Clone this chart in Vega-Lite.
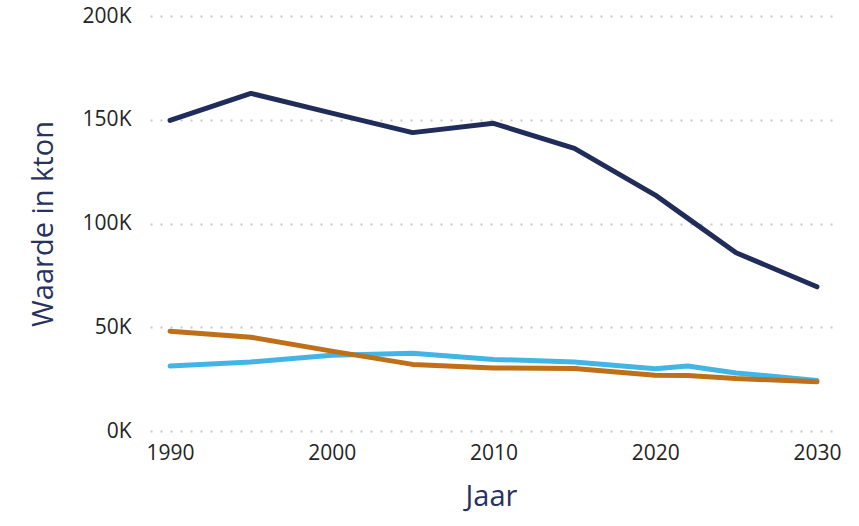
{
  "$schema": "https://vega.github.io/schema/vega-lite/v6.json",
  "autosize": {"type": "none"},
  "width": 682,
  "height": 415,
  "padding": {"left": 150, "top": 16, "right": 27, "bottom": 95},
  "background": "white",
  "config": {
    "view": {"stroke": null},
    "font": "Open Sans"
  },
  "data": {
    "values": [
      {"Jaar": 1990, "Reeks": "A", "Waarde": 149700},
      {"Jaar": 1995, "Reeks": "A", "Waarde": 162700},
      {"Jaar": 2000, "Reeks": "A", "Waarde": 153200},
      {"Jaar": 2005, "Reeks": "A", "Waarde": 143800},
      {"Jaar": 2010, "Reeks": "A", "Waarde": 148300},
      {"Jaar": 2015, "Reeks": "A", "Waarde": 136200},
      {"Jaar": 2020, "Reeks": "A", "Waarde": 113700},
      {"Jaar": 2022, "Reeks": "A", "Waarde": 102600},
      {"Jaar": 2025, "Reeks": "A", "Waarde": 85900},
      {"Jaar": 2030, "Reeks": "A", "Waarde": 69500},
      {"Jaar": 1990, "Reeks": "C", "Waarde": 31300},
      {"Jaar": 1995, "Reeks": "C", "Waarde": 33300},
      {"Jaar": 2000, "Reeks": "C", "Waarde": 36500},
      {"Jaar": 2005, "Reeks": "C", "Waarde": 37500},
      {"Jaar": 2010, "Reeks": "C", "Waarde": 34500},
      {"Jaar": 2015, "Reeks": "C", "Waarde": 33300},
      {"Jaar": 2020, "Reeks": "C", "Waarde": 30000},
      {"Jaar": 2022, "Reeks": "C", "Waarde": 31300},
      {"Jaar": 2025, "Reeks": "C", "Waarde": 28000},
      {"Jaar": 2030, "Reeks": "C", "Waarde": 24400},
      {"Jaar": 1990, "Reeks": "B", "Waarde": 48100},
      {"Jaar": 1995, "Reeks": "B", "Waarde": 45200},
      {"Jaar": 2000, "Reeks": "B", "Waarde": 38500},
      {"Jaar": 2005, "Reeks": "B", "Waarde": 32100},
      {"Jaar": 2010, "Reeks": "B", "Waarde": 30400},
      {"Jaar": 2015, "Reeks": "B", "Waarde": 30100},
      {"Jaar": 2020, "Reeks": "B", "Waarde": 26900},
      {"Jaar": 2022, "Reeks": "B", "Waarde": 26800},
      {"Jaar": 2025, "Reeks": "B", "Waarde": 25300},
      {"Jaar": 2030, "Reeks": "B", "Waarde": 23700}
    ]
  },
  "mark": {"type": "line", "strokeWidth": 5, "strokeCap": "round", "strokeJoin": "round"},
  "encoding": {
    "x": {
      "field": "Jaar",
      "type": "quantitative",
      "scale": {"domain": [1988.76, 2030.93], "nice": false, "zero": false},
      "axis": {
        "title": "Jaar",
        "values": [1990, 2000, 2010, 2020, 2030],
        "format": "d",
        "domain": false,
        "ticks": false,
        "grid": false,
        "labelFontSize": 21,
        "labelColor": "#252423",
        "labelPadding": 11,
        "titleFontSize": 29,
        "titleFontWeight": "normal",
        "titleColor": "#27325e",
        "titlePadding": 19
      }
    },
    "y": {
      "field": "Waarde",
      "type": "quantitative",
      "scale": {"domain": [0, 200000], "nice": false},
      "axis": {
        "title": "Waarde in kton",
        "values": [0, 50000, 100000, 150000, 200000],
        "labelExpr": "format(datum.value / 1000, 'd') + 'K'",
        "domain": false,
        "ticks": false,
        "grid": true,
        "gridColor": "#c8c8c8",
        "gridDash": [2, 8],
        "gridWidth": 2,
        "labelFontSize": 21,
        "labelColor": "#252423",
        "labelPadding": 19,
        "titleFontSize": 29,
        "titleFontWeight": "normal",
        "titleColor": "#27325e",
        "titlePadding": 24
      }
    },
    "color": {
      "field": "Reeks",
      "type": "nominal",
      "scale": {"domain": ["A", "B", "C"], "range": ["#202c59", "#be6f18", "#41b6e6"]},
      "legend": null
    },
    "detail": {"field": "Reeks"}
  }
}
